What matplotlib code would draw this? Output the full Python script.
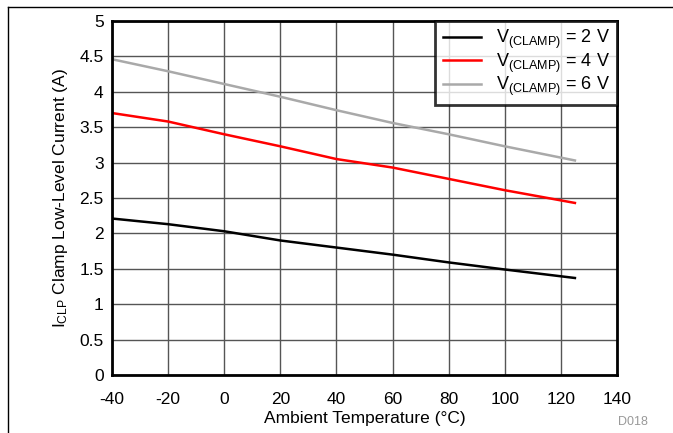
import numpy as np
import matplotlib
matplotlib.use("Agg")
import matplotlib.pyplot as plt
from matplotlib.lines import Line2D

plt.rcParams['font.family'] = ['Liberation Sans', 'DejaVu Sans']
plt.rcParams['mathtext.fontset'] = 'custom'
plt.rcParams['mathtext.rm'] = 'Liberation Sans'
plt.rcParams['mathtext.it'] = 'Liberation Sans'
plt.rcParams['axes.unicode_minus'] = False

temps = [-40, -20, 0, 20, 40, 60, 80, 100, 125]
i_2v = [2.21, 2.13, 2.03, 1.90, 1.80, 1.70, 1.59, 1.49, 1.37]
i_4v = [3.70, 3.58, 3.40, 3.23, 3.05, 2.93, 2.77, 2.61, 2.43]
i_6v = [4.46, 4.29, 4.11, 3.93, 3.74, 3.56, 3.40, 3.23, 3.03]
labels = [r'V$_{\mathrm{(CLAMP)}}$ = 2 V', r'V$_{\mathrm{(CLAMP)}}$ = 4 V',
          r'V$_{\mathrm{(CLAMP)}}$ = 6 V']
colors = ['black', '#ff0000', '#a9a9a9']

fig = plt.figure(figsize=(6.73, 4.33), dpi=100)
ax = fig.add_axes([0.1664, 0.134, 0.7504, 0.8175])

for ys, lab, c in zip([i_2v, i_4v, i_6v], labels, colors):
    ax.plot(temps, ys, color=c, lw=1.8, label=lab)

ax.set_xlim(-40, 140)
ax.set_ylim(0, 5)
ax.set_xticks(np.arange(-40, 141, 20))
ax.set_yticks(np.arange(0, 5.01, 0.5))
ax.set_yticklabels(['0', '0.5', '1', '1.5', '2', '2.5', '3', '3.5', '4', '4.5', '5'])
ax.grid(True, color='#555555', lw=1)
ax.set_axisbelow(True)
ax.tick_params(length=0, labelsize=12.5)
ax.tick_params(axis='y', pad=6)
ax.tick_params(axis='x', pad=12)
for s in ax.spines.values():
    s.set_linewidth(2)

ax.set_xlabel('Ambient Temperature (°C)', fontsize=12.5, labelpad=3)
ax.set_ylabel(r'I$_{\mathrm{CLP}}$ Clamp Low-Level Current (A)', fontsize=12.5, labelpad=7)

leg = ax.legend(loc='upper right', fontsize=13, frameon=True, fancybox=False,
                borderaxespad=0, handlelength=2.1, labelspacing=0.0,
                borderpad=0.4, handletextpad=0.85)
leg.get_frame().set_edgecolor('black')
leg.get_frame().set_linewidth(2)

fig.text(0.963, 0.012, 'D018', color='#999999', fontsize=9, ha='right', va='bottom')

fig.add_artist(Line2D([0.0119, 0.0119], [0, 0.9838], color='black', lw=1, transform=fig.transFigure))
fig.add_artist(Line2D([0.0119, 1], [0.9838, 0.9838], color='black', lw=1, transform=fig.transFigure))

fig.savefig('out.png', dpi=100)
